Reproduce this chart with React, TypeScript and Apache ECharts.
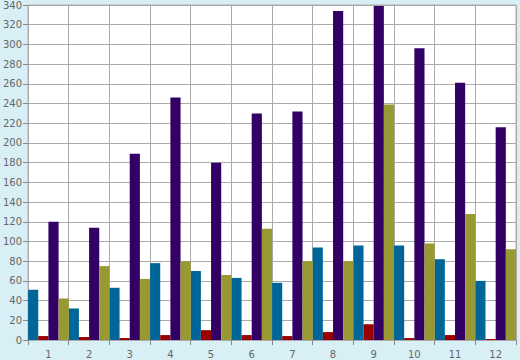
import React, { useEffect, useRef } from "react";
import * as echarts from "echarts";

const categories = ["1", "2", "3", "4", "5", "6", "7", "8", "9", "10", "11", "12"];
const seriesBlue = [51, 32, 53, 78, 70, 63, 58, 94, 96, 96, 82, 60];
const seriesRed = [4, 3, 2, 5, 10, 5, 4, 8, 16, 2, 5, 1];
const seriesPurple = [120, 114, 189, 246, 180, 230, 232, 334, 339, 296, 261, 216];
const seriesOlive = [42, 75, 62, 80, 66, 113, 80, 80, 239, 98, 128, 92];
const colors = ["#006699", "#990000", "#330066", "#999933"];

export default function App() {
  const ref = useRef<HTMLDivElement>(null);
  useEffect(() => {
    if (!ref.current) return;
    const chart = echarts.init(ref.current, undefined, { renderer: "svg" });
    const labelStyle = { color: "#666", fontFamily: "DejaVu Sans", fontSize: 10 };
    chart.setOption({
      animation: false,
      backgroundColor: "#d9eff6",
      grid: {
        left: 26,
        right: 4,
        top: 5,
        bottom: 20,
        show: true,
        backgroundColor: "#ffffff",
        borderColor: "#aaaaaa",
        borderWidth: 1,
      },
      xAxis: {
        type: "category",
        data: categories,
        boundaryGap: true,
        axisLine: { show: true, lineStyle: { color: "#aaaaaa" } },
        axisTick: { show: true, length: 5, lineStyle: { color: "#888888" } },
        splitLine: { show: true, lineStyle: { color: "#aaaaaa", width: 1 } },
        axisLabel: { ...labelStyle, margin: 9 },
      },
      yAxis: {
        type: "value",
        min: 0,
        max: 340,
        interval: 20,
        axisLine: { show: true, lineStyle: { color: "#aaaaaa" } },
        axisTick: { show: true, length: 5, lineStyle: { color: "#888888" } },
        splitLine: { show: true, lineStyle: { color: "#aaaaaa", width: 1 } },
        axisLabel: { ...labelStyle, margin: 6 },
      },
      series: [seriesBlue, seriesRed, seriesPurple, seriesOlive].map((d, i) => ({
        type: "bar",
        data: d,
        barGap: "0%",
        barCategoryGap: "0%",
        itemStyle: { color: colors[i] },
      })),
    });
    return () => chart.dispose();
  }, []);
  return <div ref={ref} style={{ width: 520, height: 360, position: "absolute", left: 0, top: 0 }} />;
}
